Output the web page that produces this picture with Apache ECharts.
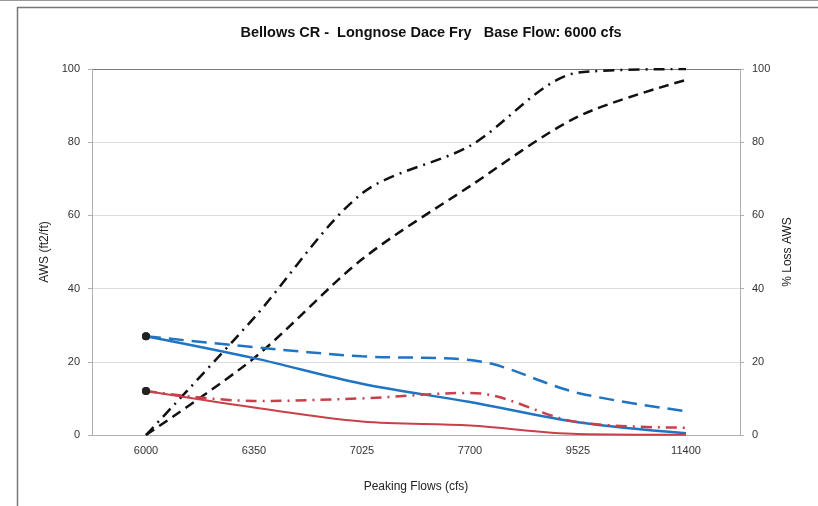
<!DOCTYPE html>
<html><head><meta charset="utf-8">
<script src="https://cdn.jsdelivr.net/npm/echarts@6/dist/echarts.min.js"></script>
<style>html,body{margin:0;padding:0;background:#fff}#c{width:818px;height:506px}</style>
</head><body><div id="c"></div>
<script>
const categories = ['6000','6350','7025','7700','9525','11400'];
const yTicks = [0,20,40,60,80,100];
const awsBlueSolid = [27, 21, 14, 9, 3.5, 0.5];
const awsBlueDashed = [27, 24, 21.5, 20.5, 11.5, 6.5];
const awsRedSolid = [12, 7.5, 3.7, 2.6, 0.3, 0.1];
const awsRedDashDot = [12, 9.3, 10, 11.5, 3.5, 2];
const lossDashDot = [0, 32, 66, 79, 99, 100];
const lossDashed = [0, 21, 48, 68, 87, 97];

const blue = '#1f74c4', red = '#c9404a', black = '#111';
function firstMarked(arr){
  return arr.map((v,i)=> i===0 ? {value:v, symbol:'circle', symbolSize:8, itemStyle:{color:'#222'}} : {value:v, symbol:'none'});
}
const chart = echarts.init(document.getElementById('c'));
const axisFont = {fontFamily:'Liberation Sans, Arial, sans-serif', fontSize:11, color:'#333'};
const nameFont = {fontFamily:'Liberation Sans, Arial, sans-serif', fontSize:12, color:'#222'};
chart.setOption({
  animation:false,
  backgroundColor:'#fff',
  title:{text:'Bellows CR -  Longnose Dace Fry   Base Flow: 6000 cfs', left:426, top:20, textAlign:'center',
    textStyle:{fontFamily:'Liberation Sans, Arial, sans-serif', fontSize:14.5, fontWeight:'bold', color:'#111'}},
  graphic:[
    {type:'line', shape:{x1:0,y1:0.5,x2:818,y2:0.5}, style:{stroke:'#999', lineWidth:1}},
    {type:'polyline', shape:{points:[[17.5,506],[17.5,7.5],[818,7.5]]}, style:{stroke:'#777', lineWidth:1.5, fill:null}}
  ],
  grid:{left:92, right:78, top:69, bottom:71},
  xAxis:{type:'category', data:categories, boundaryGap:true,
    name:'Peaking Flows (cfs)', nameLocation:'middle', nameGap:46,
    nameTextStyle:nameFont,
    axisLine:{lineStyle:{color:'#b0b0b0'}}, axisTick:{show:false},
    axisLabel:Object.assign({margin:10}, axisFont)},
  yAxis:[
    {type:'value', min:0, max:100, interval:20, position:'left',
     name:'AWS (ft2/ft)', nameLocation:'middle', nameGap:39, nameRotate:90,
     nameTextStyle:nameFont,
     axisLine:{show:true, lineStyle:{color:'#b0b0b0'}},
     axisTick:{show:true, length:4, lineStyle:{color:'#b0b0b0'}},
     axisLabel:Object.assign({margin:12, formatter:v=>yTicks.includes(v)?String(v):''}, axisFont),
     splitLine:{show:true, lineStyle:{color:['#cfcfcf','#dcdcdc','#dcdcdc','#dcdcdc','#dcdcdc','#7a7a7a'], width:1}}},
    {type:'value', min:0, max:100, interval:20, position:'right',
     name:'% Loss AWS', nameLocation:'middle', nameGap:40, nameRotate:90,
     nameTextStyle:nameFont,
     axisLine:{show:true, lineStyle:{color:'#b0b0b0'}},
     axisTick:{show:true, length:4, lineStyle:{color:'#b0b0b0'}},
     axisLabel:Object.assign({margin:12}, axisFont),
     splitLine:{show:false}}
  ],
  series:[
    {type:'line', yAxisIndex:1, data:lossDashDot, smooth:0.3, symbol:'none',
     lineStyle:{color:black, width:2.5, type:[11,6,2,6]}, z:3},
    {type:'line', yAxisIndex:1, data:lossDashed, smooth:0.3, symbol:'none',
     lineStyle:{color:black, width:2.5, type:[10,6]}, z:3},
    {type:'line', yAxisIndex:0, data:firstMarked(awsBlueDashed), smooth:0.35, showSymbol:true,
     lineStyle:{color:blue, width:2.5, type:[15,8]}, itemStyle:{color:blue}},
    {type:'line', yAxisIndex:0, data:firstMarked(awsBlueSolid), smooth:0.35, showSymbol:true,
     lineStyle:{color:blue, width:2.5}, itemStyle:{color:blue}},
    {type:'line', yAxisIndex:0, data:firstMarked(awsRedDashDot), smooth:0.35, showSymbol:true,
     lineStyle:{color:red, width:2.5, type:[11,6,2,6]}, itemStyle:{color:red}},
    {type:'line', yAxisIndex:0, data:firstMarked(awsRedSolid), smooth:0.35, showSymbol:true,
     lineStyle:{color:red, width:2}, itemStyle:{color:red}}
  ]
});
</script></body></html>
